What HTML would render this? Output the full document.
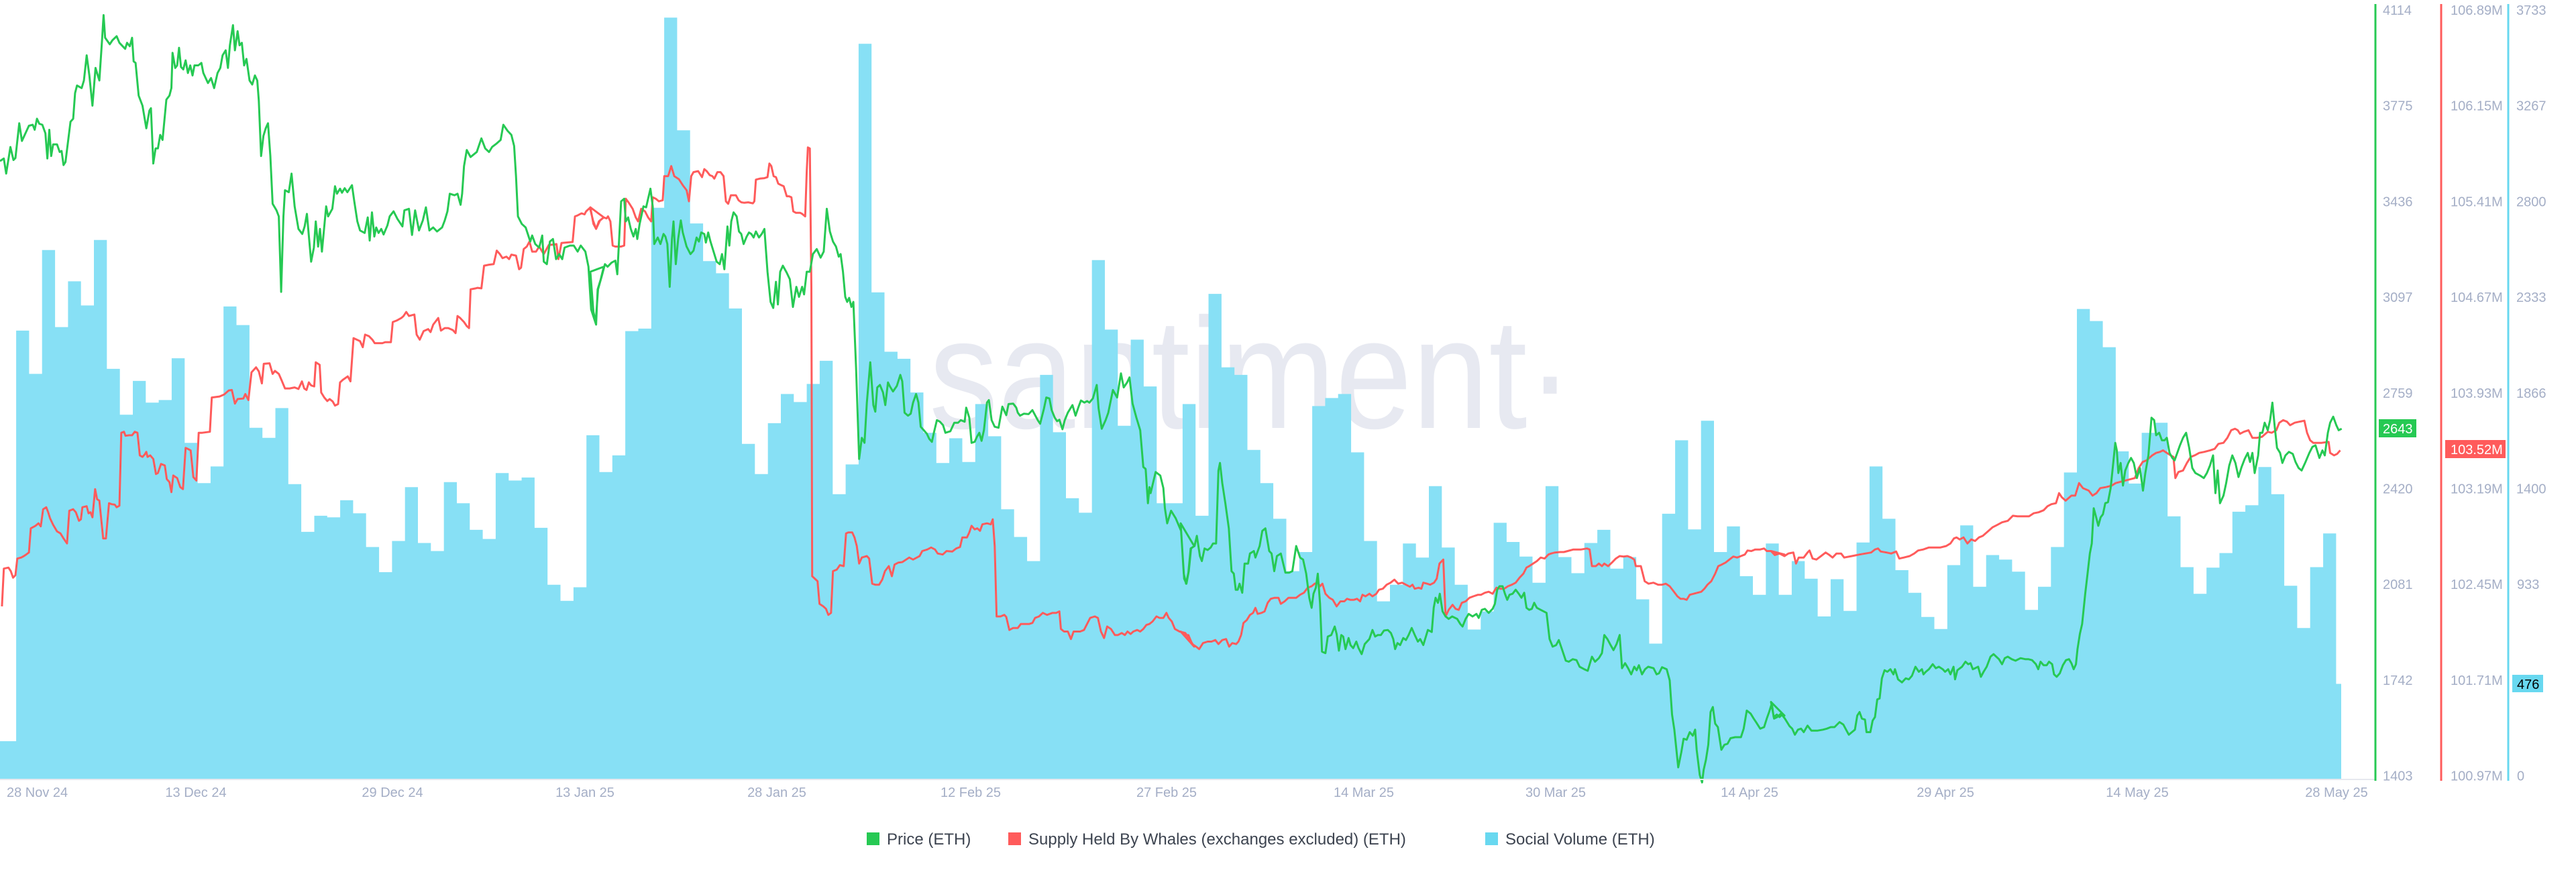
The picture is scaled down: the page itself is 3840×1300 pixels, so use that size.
<!DOCTYPE html>
<html><head><meta charset="utf-8">
<style>
html,body{margin:0;padding:0;background:#fff;}
svg{display:block;}
text{font-family:"Liberation Sans",sans-serif;}
</style></head>
<body>
<svg id="s" width="3840" height="1300" viewBox="0 0 3840 1300" xmlns="http://www.w3.org/2000/svg">
<text x="1385" y="638" font-size="235" fill="#e7e9f1" textLength="960" lengthAdjust="spacingAndGlyphs">santiment·</text>
<g id="bars" fill="#87e0f5"></g>
<g id="lines"></g>
<line x1="0" y1="1162" x2="3541" y2="1162" stroke="#e6e8ee" stroke-width="2"/>
<line x1="3541" y1="6" x2="3541" y2="1164" stroke="#26c953" stroke-width="3"/>
<line x1="3639" y1="6" x2="3639" y2="1164" stroke="#ff5b5b" stroke-width="3"/>
<line x1="3739" y1="6" x2="3739" y2="1164" stroke="#68d8f0" stroke-width="3"/>
<g id="axes" font-size="20" fill="#a4aec6"></g>
<rect x="3546" y="625" width="56" height="27" fill="#26c953"/>
<text x="3552" y="646" font-size="20" fill="#fff">2643</text>
<rect x="3645" y="656" width="90" height="27" fill="#ff5b5b"/>
<text x="3653" y="677" font-size="20" fill="#fff">103.52M</text>
<rect x="3745" y="1006" width="46" height="26" fill="#68d8f0"/>
<text x="3752" y="1027" font-size="20" fill="#000">476</text>
<g font-size="20" fill="#a4aec6">
<text x="10" y="1188">28 Nov 24</text>
<text x="292" y="1188" text-anchor="middle">13 Dec 24</text>
<text x="585" y="1188" text-anchor="middle">29 Dec 24</text>
<text x="872" y="1188" text-anchor="middle">13 Jan 25</text>
<text x="1158" y="1188" text-anchor="middle">28 Jan 25</text>
<text x="1447" y="1188" text-anchor="middle">12 Feb 25</text>
<text x="1739" y="1188" text-anchor="middle">27 Feb 25</text>
<text x="2033" y="1188" text-anchor="middle">14 Mar 25</text>
<text x="2319" y="1188" text-anchor="middle">30 Mar 25</text>
<text x="2608" y="1188" text-anchor="middle">14 Apr 25</text>
<text x="2900" y="1188" text-anchor="middle">29 Apr 25</text>
<text x="3186" y="1188" text-anchor="middle">14 May 25</text>
<text x="3483" y="1188" text-anchor="middle">28 May 25</text>
</g>
<g font-size="24" fill="#3d4450">
<rect x="1292" y="1241" width="19" height="19" fill="#26c953"/>
<text x="1322" y="1259">Price (ETH)</text>
<rect x="1503" y="1241" width="19" height="19" fill="#ff5b5b"/>
<text x="1533" y="1259">Supply Held By Whales (exchanges excluded) (ETH)</text>
<rect x="2214" y="1241" width="19" height="19" fill="#68d8f0"/>
<text x="2244" y="1259">Social Volume (ETH)</text>
</g>
</svg>
<script>
var NS="http://www.w3.org/2000/svg",SX=1.742,SY=1.333;
function el(t,a,p){var e=document.createElementNS(NS,t);for(var k in a)e.setAttribute(k,a[k]);p.appendChild(e);return e;}
var ax=document.getElementById('axes');
var g=["4114","3775","3436","3097","2759","2420","2081","1742","1403"],
r=["106.89M","106.15M","105.41M","104.67M","103.93M","103.19M","102.45M","101.71M","100.97M"],
c=["3733","3267","2800","2333","1866","1400","933","","0"];
for(var i=0;i<9;i++){var y=15+142.7*i+7;
el('text',{x:3552,y:y},ax).textContent=g[i];
el('text',{x:3653,y:y},ax).textContent=r[i];
if(c[i])el('text',{x:(c[i].length<4?3752:3751),y:y},ax).textContent=c[i];}
var tops=[657,743,497,650,559,607,477,733,824,757,800,795,712,880,960,927,609,646,850,870,811,962,1057,1025,1028,994,1020,1087,1137,1075,968,1079,1095,958,1000,1053,1071,940,955,949,1049,1162,1194,1167,865,
938,905,658,653,413,35,259,444,519,543,613,882,942,841,783,799,763,717,982,923,87,581,699,713,780,860,920,871,918,803,867,1012,1067,1115,745,859,990,1019,517,655,846,675,768,1000,1000,
803,1025,584,730,745,894,960,1031,1135,1097,807,791,783,899,1075,1195,1162,1080,1108,966,1088,1162,1251,1215,1039,1077,1106,1158,966,1107,1139,1079,1053,1130,1107,1191,1279,1021,875,1052,836,1097,1046,1145,1182,1080,
1182,1115,1150,1225,1151,1214,1078,927,1031,1133,1178,1226,1250,1123,1044,1166,1103,1112,1136,1212,1166,1087,939,614,638,690,897,961,860,840,1026,1127,1180,1128,1099,1017,1004,928,982,1164,1248,1127,1060];
var B=document.getElementById('bars'),d="M0,1162 L0,"+(1473/SY)+" L24.1,"+(1473/SY);
for(var k=0;k<tops.length;k++){var x=24.1+19.32*k,t=tops[k]/SY;d+=" L"+x.toFixed(1)+","+t.toFixed(1)+" L"+(x+19.32).toFixed(1)+","+t.toFixed(1);}
var xe=24.1+19.32*tops.length;d+=" L"+xe.toFixed(1)+","+(1359/SY).toFixed(1)+" L3490,"+(1359/SY).toFixed(1)+" L3490,1162 Z";
el('path',{d:d},B);
function seg(x0,a){var o=[];for(var i=0;i<a.length;i+=2)o.push((x0+a[i]/SX).toFixed(1)+","+(a[i+1]/SY).toFixed(1));return o;}
var G=[[0,[0,320,10,315,16,345,27,292,35,318,40,314,50,245,57,280,75,250,85,248,90,258,96,236,102,246,110,248,118,265,123,315,128,258,133,310,138,287,148,287,155,302,160,300,165,328,170,322,183,242,190,236,195,185,200,170,212,175,218,160,225,110,232,150,240,210,248,135,258,160,265,80,269,30,273,75,285,88,292,80,303,72,310,85,325,97,330,85,337,92,343,75,347,122,352,125,360,190,370,210,380,255,388,220,392,215,398,325,404,295,410,295,416,268,422,278,432,198,440,190,445,175,448,105,455,135,460,130,465,95,470,133,476,138,482,120,488,145,494,130,500,150,505,130,515,130,523,125,528,145,540,165,548,155,556,175,565,145,572,135,578,110,586,100,592,135,597,90,605,50,610,100,617,62,622,90,628,85,634,130,640,117,648,160,655,168,662,150,668,160,672,200,678,310,684,270,690,255,696,245,702,310,708,405,718,418,724,430,730,580,736,430,740,378,750,382,757,345,765,410,775,455,785,465,791,450,797,425,808,520,815,492,820,440,826,490,831,455,836,500,847,410,852,430,863,415,870,370,875,385,883,375,888,383,895,374,902,382,914,368,920,400,928,440,935,458,947,463,955,432,960,478,966,422,972,470,977,452,983,463,990,455,996,466,1006,448,1012,430,1022,420,1032,435,1045,450,1050,418,1062,415,1070,467,1078,418,1088,458,1098,438,1106,412,1115,458,1125,452,1135,460,1148,452,1155,438,1162,420,1168,385,1180,388,1188,385,1196,407,1200,385,1205,330,1212,298,1222,312,1238,302,1250,275,1260,295,1270,302,1278,292,1290,285,1300,278,1307,248,1318,260,1328,268,1335,290,1340,350,1345,430,1355,445,1365,452,1377,480,1382,468,1390,485,1400,492,1408,468,1412,520,1420,525,1428,480,1436,475,1444,515,1452,505,1460,515,1466,492,1480,488,1490,488,1500,500,1508,488,1520,500,1528,530,1535,615,1548,645,1552,575,1560,555,1568,530]],
[880,[0,540,8,620,14,640,20,575,30,548,38,525,45,530,55,522,65,518,70,545,80,400,88,395,92,440,98,432,105,455,112,470,118,455,122,475,128,445,138,410,145,412,150,395,156,375,162,410,166,485,175,472,182,485,190,465,195,470,200,485,206,570,212,475,216,440,222,525,228,475,235,438,240,462,250,490,260,505,268,498,276,472,282,480,288,462,296,465,300,482,306,462,312,480,320,500,328,520,336,525,342,505,348,535,356,450,361,488,366,440,372,422,380,430,386,460,392,465,398,485,406,470,412,462,418,465,424,472,430,460,438,472,445,465,452,455,460,540,468,600,475,612,482,560,487,605,493,540,500,528,510,542,518,555,526,610,535,570,542,590,550,570,555,585,562,540,570,540,578,505,588,495,598,512,606,500,614,415,622,460,630,480,638,490,645,510,650,505,656,540,662,590,667,600,672,592,678,610,683,600,690,730,698,912,705,870,712,880,718,800,727,720,735,805,740,818,745,770,752,765,760,780,766,805,773,760,778,768,786,778,796,767,805,745,810,758,816,820,825,826,832,822,838,800,846,783,852,800,858,848,866,855,874,862,880,872,887,878,892,860,900,835,908,838,916,845,922,860,935,857,945,840,955,840,962,835,972,838,976,810,984,830,990,880,998,878,1004,868,1010,860,1016,876,1022,855,1030,800,1035,795,1042,835,1050,848,1060,850,1070,808,1080,825,1086,803,1098,802,1106,810,1110,820,1116,826,1126,822,1138,823,1148,815,1155,825,1162,835,1168,842,1178,812,1184,790,1192,792,1198,815,1206,830,1212,837,1218,834,1226,853,1232,835,1240,820,1252,805,1260,826,1268,808,1274,796,1283,800,1290,797,1296,800,1305,792,1315,765,1320,812,1328,852,1338,835,1345,820,1357,775,1368,790,1378,742,1385,770,1394,760,1400,750,1408,802,1418,830,1428,855,1436,928,1442,932,1448,1000,1452,968,1455,980,1468,938,1480,945,1488,970,1492,1010,1498,1040,1508,1015,1520,1030,1534,1055,1542,1150,1548,1160,1554,1135,1560,1090,1568,1085]],
[1760,[0,1040,8,1140,14,1160,20,1138,26,1090,36,1085,42,1065,50,1105,55,1115,62,1090,70,1093,78,1088,84,1080,92,1080,98,935,102,920,108,960,116,1000,125,1050,132,1135,138,1140,143,1172,148,1172,153,1160,160,1178,166,1120,175,1120,180,1100,190,1095,194,1108,205,1085,212,1055,220,1050,230,1095,236,1100,243,1135,250,1105,260,1100,272,1138,282,1138,290,1135,300,1085,310,1108,318,1112,326,1140,334,1188,340,1208,345,1180,351,1168,356,1140,362,1200,367,1295,376,1298,382,1265,391,1262,400,1245,405,1260,411,1293,417,1262,422,1265,428,1290,436,1268,441,1282,448,1288,456,1275,462,1288,470,1300,478,1280,490,1270,498,1252,505,1265,512,1262,520,1262,528,1253,538,1252,546,1258,552,1270,557,1290,563,1278,570,1282,578,1268,585,1272,592,1262,600,1248,608,1262,616,1275,622,1270,630,1282,642,1252,652,1256,657,1208,662,1188,668,1198,673,1180,680,1215,688,1225,696,1230,705,1225,718,1230,726,1240,732,1245,740,1230,748,1220,758,1225,768,1220,774,1228,782,1212,790,1210,800,1218,810,1210,816,1200,822,1172,828,1165,836,1165,842,1180,848,1192,854,1182,862,1180,870,1172,878,1180,885,1188,892,1178,898,1208,905,1212,912,1210,918,1198,925,1208,935,1212,950,1218,958,1270,966,1285,975,1282,982,1272,990,1290,1000,1313,1008,1315,1018,1310,1028,1312,1036,1325,1048,1330,1057,1333,1068,1305,1076,1315,1086,1308,1094,1298,1100,1262,1108,1270,1115,1280,1124,1292,1132,1280,1140,1262,1146,1328,1154,1318,1162,1328,1170,1340,1178,1325,1184,1332,1190,1322,1198,1340,1206,1330,1214,1325,1228,1328,1236,1340,1242,1338,1250,1326,1262,1330,1270,1352,1276,1420,1282,1450,1292,1525,1300,1495,1306,1468,1314,1470,1322,1455,1330,1462,1336,1450,1340,1490,1348,1540,1354,1555,1358,1530,1364,1510,1370,1480,1376,1415,1382,1405,1388,1438,1395,1445,1404,1490,1412,1480,1420,1478,1428,1467,1440,1465,1455,1465,1462,1448,1470,1412,1480,1418,1488,1428,1495,1436,1505,1448,1515,1445,1522,1428,1528,1415,1535,1398,1540,1425,1548,1420,1555,1425,1562,1420,1568,1422]],
[2640,[0,1395,8,1428,16,1425,26,1418,36,1428,48,1443,55,1448,62,1460,70,1450,78,1448,85,1455,95,1442,105,1452,120,1452,135,1450,145,1448,155,1445,165,1445,178,1435,188,1440,195,1450,202,1460,210,1455,218,1450,224,1422,230,1415,236,1428,244,1430,248,1455,258,1455,264,1432,270,1425,276,1390,282,1388,288,1348,295,1332,302,1335,310,1330,318,1340,322,1330,330,1350,340,1356,350,1348,358,1350,366,1343,375,1325,384,1335,392,1330,396,1340,402,1335,410,1330,420,1320,428,1328,436,1325,446,1330,452,1335,460,1330,466,1340,474,1325,478,1350,484,1332,496,1325,505,1315,512,1320,518,1318,524,1330,530,1328,538,1325,545,1345,552,1335,560,1325,570,1305,578,1300,585,1305,592,1310,600,1320,607,1308,615,1305,625,1310,635,1313,648,1308,660,1310,668,1310,678,1312,688,1320,694,1330,700,1315,708,1322,716,1322,722,1315,730,1320,735,1340,742,1345,750,1338,758,1322,766,1312,774,1310,780,1318,786,1330,792,1320,796,1290,802,1260,808,1240,816,1180,822,1140,828,1100,833,1080,838,1010,845,1030,850,1045,856,1028,862,1022,868,1000,875,998,882,970,888,925,894,880,898,895,902,940,908,920,914,965,920,935,928,920,935,910,942,920,950,950,958,930,966,975,972,940,980,905,988,830,995,835,1000,865,1008,860,1015,875,1022,875,1028,870,1035,900,1042,910,1048,915,1055,900,1062,885,1070,870,1078,860,1086,890,1094,930,1102,940,1114,945,1124,950,1132,940,1140,925,1148,905,1154,980,1160,935,1166,1000,1175,985,1182,960,1190,925,1198,905,1206,920,1214,948,1222,928,1230,912,1238,900,1244,918,1250,900,1256,940,1265,905,1270,860,1276,860,1282,840,1290,855,1296,835,1302,800,1308,848,1314,890,1322,900,1328,920,1336,905,1345,898,1355,902,1362,918,1370,930,1378,935,1388,918,1398,900,1406,888,1414,885,1424,910,1432,895,1438,905,1446,860,1452,840,1460,828,1468,845,1474,855,1482,852]]];
var R=[[0,[5,1205,10,1130,22,1128,28,1135,34,1148,40,1143,45,1110,55,1108,62,1105,68,1102,75,1098,80,1050,92,1045,100,1040,106,1046,112,1012,120,1008,125,1018,130,1030,138,1043,148,1056,157,1060,165,1070,174,1080,180,1015,190,1012,197,1018,205,1035,210,1032,214,1008,225,1006,230,1020,235,1018,240,1028,247,972,252,992,258,995,268,1070,275,1070,283,1000,290,1002,298,1003,303,1008,310,1005,315,860,322,858,326,866,335,865,343,865,350,858,357,860,363,905,370,908,376,903,380,898,383,908,390,905,398,912,405,942,410,940,418,922,428,925,433,952,440,958,445,978,450,945,460,950,468,968,475,972,482,890,490,893,495,895,502,948,510,955,516,860,525,860,545,858,550,790,570,788,582,784,594,776,602,775,610,802,617,793,632,792,637,783,645,795,653,740,665,730,672,738,680,762,685,723,700,722,708,743,714,737,724,743,732,757,740,772,752,772,765,770,775,773,784,758,790,772,796,775,802,760,808,766,816,768,820,720,830,725,834,780,842,790,850,797,856,793,864,798,870,806,878,803,883,760,890,755,903,748,910,758,918,672,935,678,942,690,948,665,958,668,967,675,973,682,985,682,993,682,1000,680,1015,680,1020,640,1030,637,1042,632,1048,628,1055,620,1062,628,1076,625,1082,665,1090,675,1100,658,1112,654,1118,660,1125,645,1130,640,1138,632,1145,657,1155,652,1164,652,1176,656,1183,662,1188,628,1195,632,1205,640,1212,648,1218,652,1222,575,1235,573,1240,572,1250,573,1257,528,1270,526,1282,525,1290,498,1298,505,1305,513,1315,510,1322,515,1328,506,1340,508,1348,535,1353,532,1360,495,1368,490,1375,480,1382,500,1392,500,1400,490,1412,505,1425,487,1437,486,1445,485,1450,515,1458,483,1470,482,1487,481,1493,430,1500,428,1510,424,1518,426,1522,420,1532,413,1540,438,1548,455,1555,440,1568,432]],
[880,[0,412,8,445,15,455,25,438,35,432,42,434,46,430,52,440,58,488,65,490,80,490,88,488,92,395,100,403,110,415,118,432,124,440,132,415,142,420,150,432,158,440,162,392,170,395,178,400,188,398,192,350,202,350,210,330,218,350,230,356,240,368,250,378,256,400,262,350,268,342,280,340,290,352,296,336,302,340,310,348,317,350,322,355,330,342,338,342,346,350,352,400,358,405,365,388,378,388,385,398,392,402,400,403,410,402,422,404,426,400,430,357,440,355,452,354,460,352,465,325,470,330,476,350,482,352,488,365,496,368,502,370,510,390,516,390,522,392,527,420,534,423,545,423,550,425,558,430,562,340,565,293,570,295,574,570,576,1145,590,1155,595,1200,605,1205,612,1210,618,1222,625,1218,630,1135,640,1132,648,1123,658,1125,664,1060,670,1058,680,1058,686,1068,692,1085,698,1120,705,1108,718,1105,724,1110,732,1160,740,1162,750,1162,758,1152,765,1135,775,1125,783,1145,790,1122,800,1118,810,1117,820,1112,828,1108,838,1112,848,1108,855,1105,862,1095,875,1092,885,1088,895,1092,902,1100,915,1102,925,1095,940,1096,950,1090,960,1087,966,1068,978,1068,984,1058,990,1045,998,1052,1005,1050,1012,1055,1018,1042,1030,1040,1040,1042,1045,1032,1050,1085,1055,1225,1065,1225,1075,1222,1080,1226,1088,1252,1098,1248,1110,1248,1118,1240,1130,1240,1140,1240,1148,1238,1155,1228,1165,1225,1175,1218,1186,1222,1200,1218,1210,1218,1218,1215,1222,1250,1230,1255,1240,1255,1248,1270,1255,1255,1262,1255,1272,1255,1282,1252,1290,1240,1298,1228,1310,1225,1318,1228,1326,1255,1334,1268,1342,1245,1352,1250,1362,1262,1370,1262,1380,1258,1388,1262,1395,1255,1403,1260,1410,1255,1420,1252,1428,1255,1436,1250,1444,1242,1452,1240,1460,1235,1470,1225,1478,1228,1488,1228,1496,1218,1502,1228,1510,1235,1518,1250,1530,1255,1545,1258,1556,1270,1568,1285]],
[1760,[0,1255,12,1262,20,1262,30,1280,40,1285,48,1290,58,1278,70,1275,80,1275,90,1272,98,1280,108,1272,118,1270,126,1285,134,1278,144,1280,150,1275,157,1262,163,1238,172,1232,180,1222,188,1218,194,1208,200,1220,210,1218,218,1215,226,1198,234,1190,244,1188,254,1188,260,1200,270,1195,280,1188,290,1188,300,1188,310,1182,320,1178,330,1168,340,1165,348,1160,356,1158,362,1165,368,1160,376,1180,386,1188,395,1192,405,1205,415,1195,425,1195,432,1190,440,1192,450,1192,458,1190,466,1195,472,1182,480,1185,490,1180,498,1185,508,1180,515,1172,525,1170,535,1162,545,1158,555,1152,565,1160,575,1158,585,1162,595,1166,602,1162,608,1170,618,1168,625,1170,630,1158,640,1160,648,1162,658,1158,665,1150,672,1120,682,1112,688,1225,696,1212,706,1202,714,1210,722,1212,730,1198,740,1195,750,1188,760,1185,772,1182,780,1182,790,1178,800,1176,810,1180,820,1168,830,1170,840,1170,850,1165,860,1162,870,1158,880,1148,890,1140,898,1128,905,1125,915,1120,925,1115,935,1108,945,1110,955,1102,962,1100,972,1098,985,1097,995,1097,1005,1095,1020,1092,1040,1092,1055,1090,1062,1092,1068,1125,1078,1125,1086,1120,1094,1125,1100,1120,1110,1125,1120,1118,1130,1110,1140,1105,1150,1106,1160,1105,1170,1108,1178,1112,1182,1125,1195,1125,1205,1155,1215,1160,1228,1158,1240,1162,1250,1162,1260,1160,1270,1165,1280,1175,1290,1185,1298,1190,1306,1190,1314,1192,1322,1182,1332,1180,1342,1178,1352,1176,1360,1170,1368,1162,1378,1155,1388,1140,1396,1125,1405,1122,1415,1118,1425,1112,1435,1106,1445,1108,1455,1105,1465,1102,1472,1094,1482,1095,1492,1092,1505,1092,1515,1090,1522,1095,1532,1095,1540,1098,1552,1100,1568,1102]],
[2640,[0,1095,10,1103,22,1100,35,1105,45,1100,58,1098,65,1120,72,1108,85,1108,95,1098,100,1094,108,1110,118,1112,130,1105,142,1098,150,1102,160,1108,170,1100,182,1100,190,1108,210,1105,230,1102,245,1100,260,1098,270,1092,278,1090,285,1096,300,1098,312,1100,325,1096,333,1110,345,1108,360,1105,372,1100,382,1094,395,1092,410,1088,425,1088,440,1088,455,1085,466,1080,475,1070,482,1068,490,1072,500,1068,510,1080,520,1072,530,1075,540,1068,550,1065,565,1055,575,1048,588,1043,600,1038,615,1035,628,1025,640,1026,655,1026,670,1026,682,1020,695,1018,708,1014,718,1006,728,1002,740,1000,748,980,755,988,765,995,780,985,790,985,800,960,810,970,825,975,835,985,845,980,855,970,870,968,885,965,895,960,905,958,920,955,935,952,945,950,955,930,965,918,975,915,990,905,1000,900,1010,898,1018,895,1028,900,1038,905,1045,908,1050,950,1058,938,1070,935,1080,920,1090,908,1100,905,1112,900,1125,898,1140,895,1152,892,1162,882,1175,880,1185,870,1195,855,1205,852,1212,855,1218,862,1228,858,1240,855,1250,870,1262,870,1275,868,1290,858,1300,860,1312,855,1320,840,1330,835,1340,838,1348,845,1360,840,1372,838,1385,836,1392,860,1400,875,1408,880,1418,880,1430,880,1448,878,1452,900,1462,905,1470,902,1478,895]]];
var L=document.getElementById('lines');
function draw(S,col){var pts=[];S.forEach(function(s){pts=pts.concat(seg(s[0],s[1]));});
el('polyline',{points:pts.join(' '),fill:'none',stroke:col,'stroke-width':3,'stroke-linejoin':'round'},L);}
draw(R,'#ff5b5b');draw(G,'#26c953');
</script>
</body></html>
